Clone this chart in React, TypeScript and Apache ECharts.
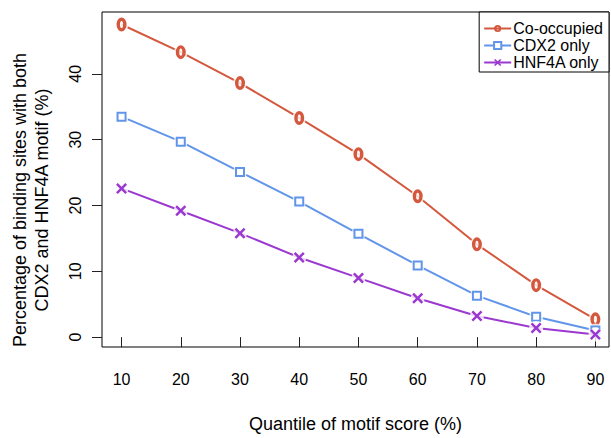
import React, { useEffect, useRef } from "react";
import * as echarts from "echarts";

const quantiles = [10, 20, 30, 40, 50, 60, 70, 80, 90];
const coOccupied = [47.5, 43.3, 38.6, 33.3, 27.8, 21.4, 14.1, 7.9, 2.7];
const cdx2Only = [33.5, 29.7, 25.1, 20.6, 15.7, 10.9, 6.3, 3.1, 1.0];
const hnf4aOnly = [22.6, 19.2, 15.8, 12.1, 9.0, 5.9, 3.2, 1.4, 0.4];
const xTicks = [10, 20, 30, 40, 50, 60, 70, 80, 90];
const yTicks = [0, 10, 20, 30, 40];

const seriesNames = ["Co-occupied", "CDX2 only", "HNF4A only"];
const seriesColors = ["#D4583D", "#6195EA", "#9B38D0"];

const ringPath =
  "path://M0,-6.5 A4.5,6.5 0 1,1 0,6.5 A4.5,6.5 0 1,1 0,-6.5 Z M0,-3.3 A1.4,3.3 0 1,0 0,3.3 A1.4,3.3 0 1,0 0,-3.3 Z";
const crossPath =
  "path://M0,1.6 L1.6,0 L5,3.4 L8.4,0 L10,1.6 L6.6,5 L10,8.4 L8.4,10 L5,6.6 L1.6,10 L0,8.4 L3.4,5 Z";

const FONT = "'Liberation Sans', Arial, Helvetica, sans-serif";

export default function App() {
  const ref = useRef<HTMLDivElement>(null);
  useEffect(() => {
    if (!ref.current) return;
    const chart = echarts.init(ref.current, undefined, { renderer: "svg" });
    const allData = [coOccupied, cdx2Only, hnf4aOnly];
    const markerDefs = [
      { symbol: ringPath, size: [10, 14], itemStyle: {} },
      { symbol: "emptyRect", size: 8, itemStyle: { borderWidth: 2 } },
      { symbol: crossPath, size: 11, itemStyle: {} },
    ];
    const series: any[] = [];
    allData.forEach((vals, i) => {
      const pts = quantiles.map((q, j) => [q, vals[j]]);
      const color = seriesColors[i];
      series.push({
        type: "line",
        name: seriesNames[i] + "-line",
        data: pts,
        showSymbol: false,
        symbol: "none",
        lineStyle: { color, width: 2 },
        z: 2 + i * 3,
        silent: true,
      });
      series.push({
        type: "scatter",
        name: seriesNames[i] + "-mask",
        data: pts,
        symbol: "circle",
        symbolSize: 14,
        itemStyle: { color: "#ffffff" },
        z: 3 + i * 3,
        silent: true,
      });
      series.push({
        type: "line",
        name: seriesNames[i],
        data: pts,
        symbol: markerDefs[i].symbol,
        symbolSize: markerDefs[i].size,
        showSymbol: true,
        itemStyle: { color, ...markerDefs[i].itemStyle },
        lineStyle: { color, width: 2, opacity: 0 },
        z: 4 + i * 3,
        silent: true,
      });
    });

    chart.setOption({
      animation: false,
      textStyle: { fontFamily: FONT },
      grid: {
        left: 102,
        right: 2,
        top: 12,
        bottom: 87,
        show: true,
        borderColor: "#000",
        borderWidth: 1,
        backgroundColor: "transparent",
      },
      legend: {
        data: seriesNames,
        orient: "vertical",
        right: 2,
        top: 12,
        borderColor: "#000",
        borderWidth: 1,
        backgroundColor: "#fff",
        padding: [8, 6, 1, 4],
        itemGap: 0,
        itemWidth: 27,
        itemHeight: 9,
        selectedMode: false,
        lineStyle: { opacity: 1, width: 2 },
        textStyle: { fontSize: 16, color: "#000", fontFamily: FONT, lineHeight: 17, padding: [0, 0, 0, -3] },
      },
      xAxis: {
        type: "value",
        min: 6.7,
        max: 92.3,
        axisLine: { show: false },
        splitLine: { show: false },
        axisTick: {
          show: true,
          inside: false,
          length: 10,
          customValues: xTicks,
          lineStyle: { color: "#222", width: 1 },
        },
        axisLabel: {
          customValues: xTicks,
          fontSize: 16,
          color: "#000",
          margin: 24,
          fontFamily: FONT,
        },
        name: "Quantile of motif score (%)",
        nameLocation: "middle",
        nameGap: 68,
        nameTextStyle: { fontSize: 18, color: "#000", fontFamily: FONT },
      },
      yAxis: {
        type: "value",
        min: -1.5,
        max: 49.4,
        axisLine: { show: false },
        splitLine: { show: false },
        axisTick: {
          show: true,
          inside: false,
          length: 10,
          customValues: yTicks,
          lineStyle: { color: "#222", width: 1 },
        },
        axisLabel: {
          customValues: yTicks,
          fontSize: 16,
          color: "#000",
          rotate: 90,
          margin: 19,
          fontFamily: FONT,
        },
      },
      graphic: [
        {
          type: "text",
          x: 31,
          y: 200,
          rotation: Math.PI / 2,
          style: {
            text: "Percentage of binding sites with both\nCDX2 and HNF4A motif (%)",
            font: `18px ${FONT}`,
            fill: "#000",
            align: "center",
            verticalAlign: "middle",
            lineHeight: 22,
          },
        },
      ],
      series,
    });
    return () => chart.dispose();
  }, []);
  return (
    <div
      ref={ref}
      style={{ position: "fixed", left: 0, top: 0, width: 611, height: 438, background: "#fff" }}
    />
  );
}
